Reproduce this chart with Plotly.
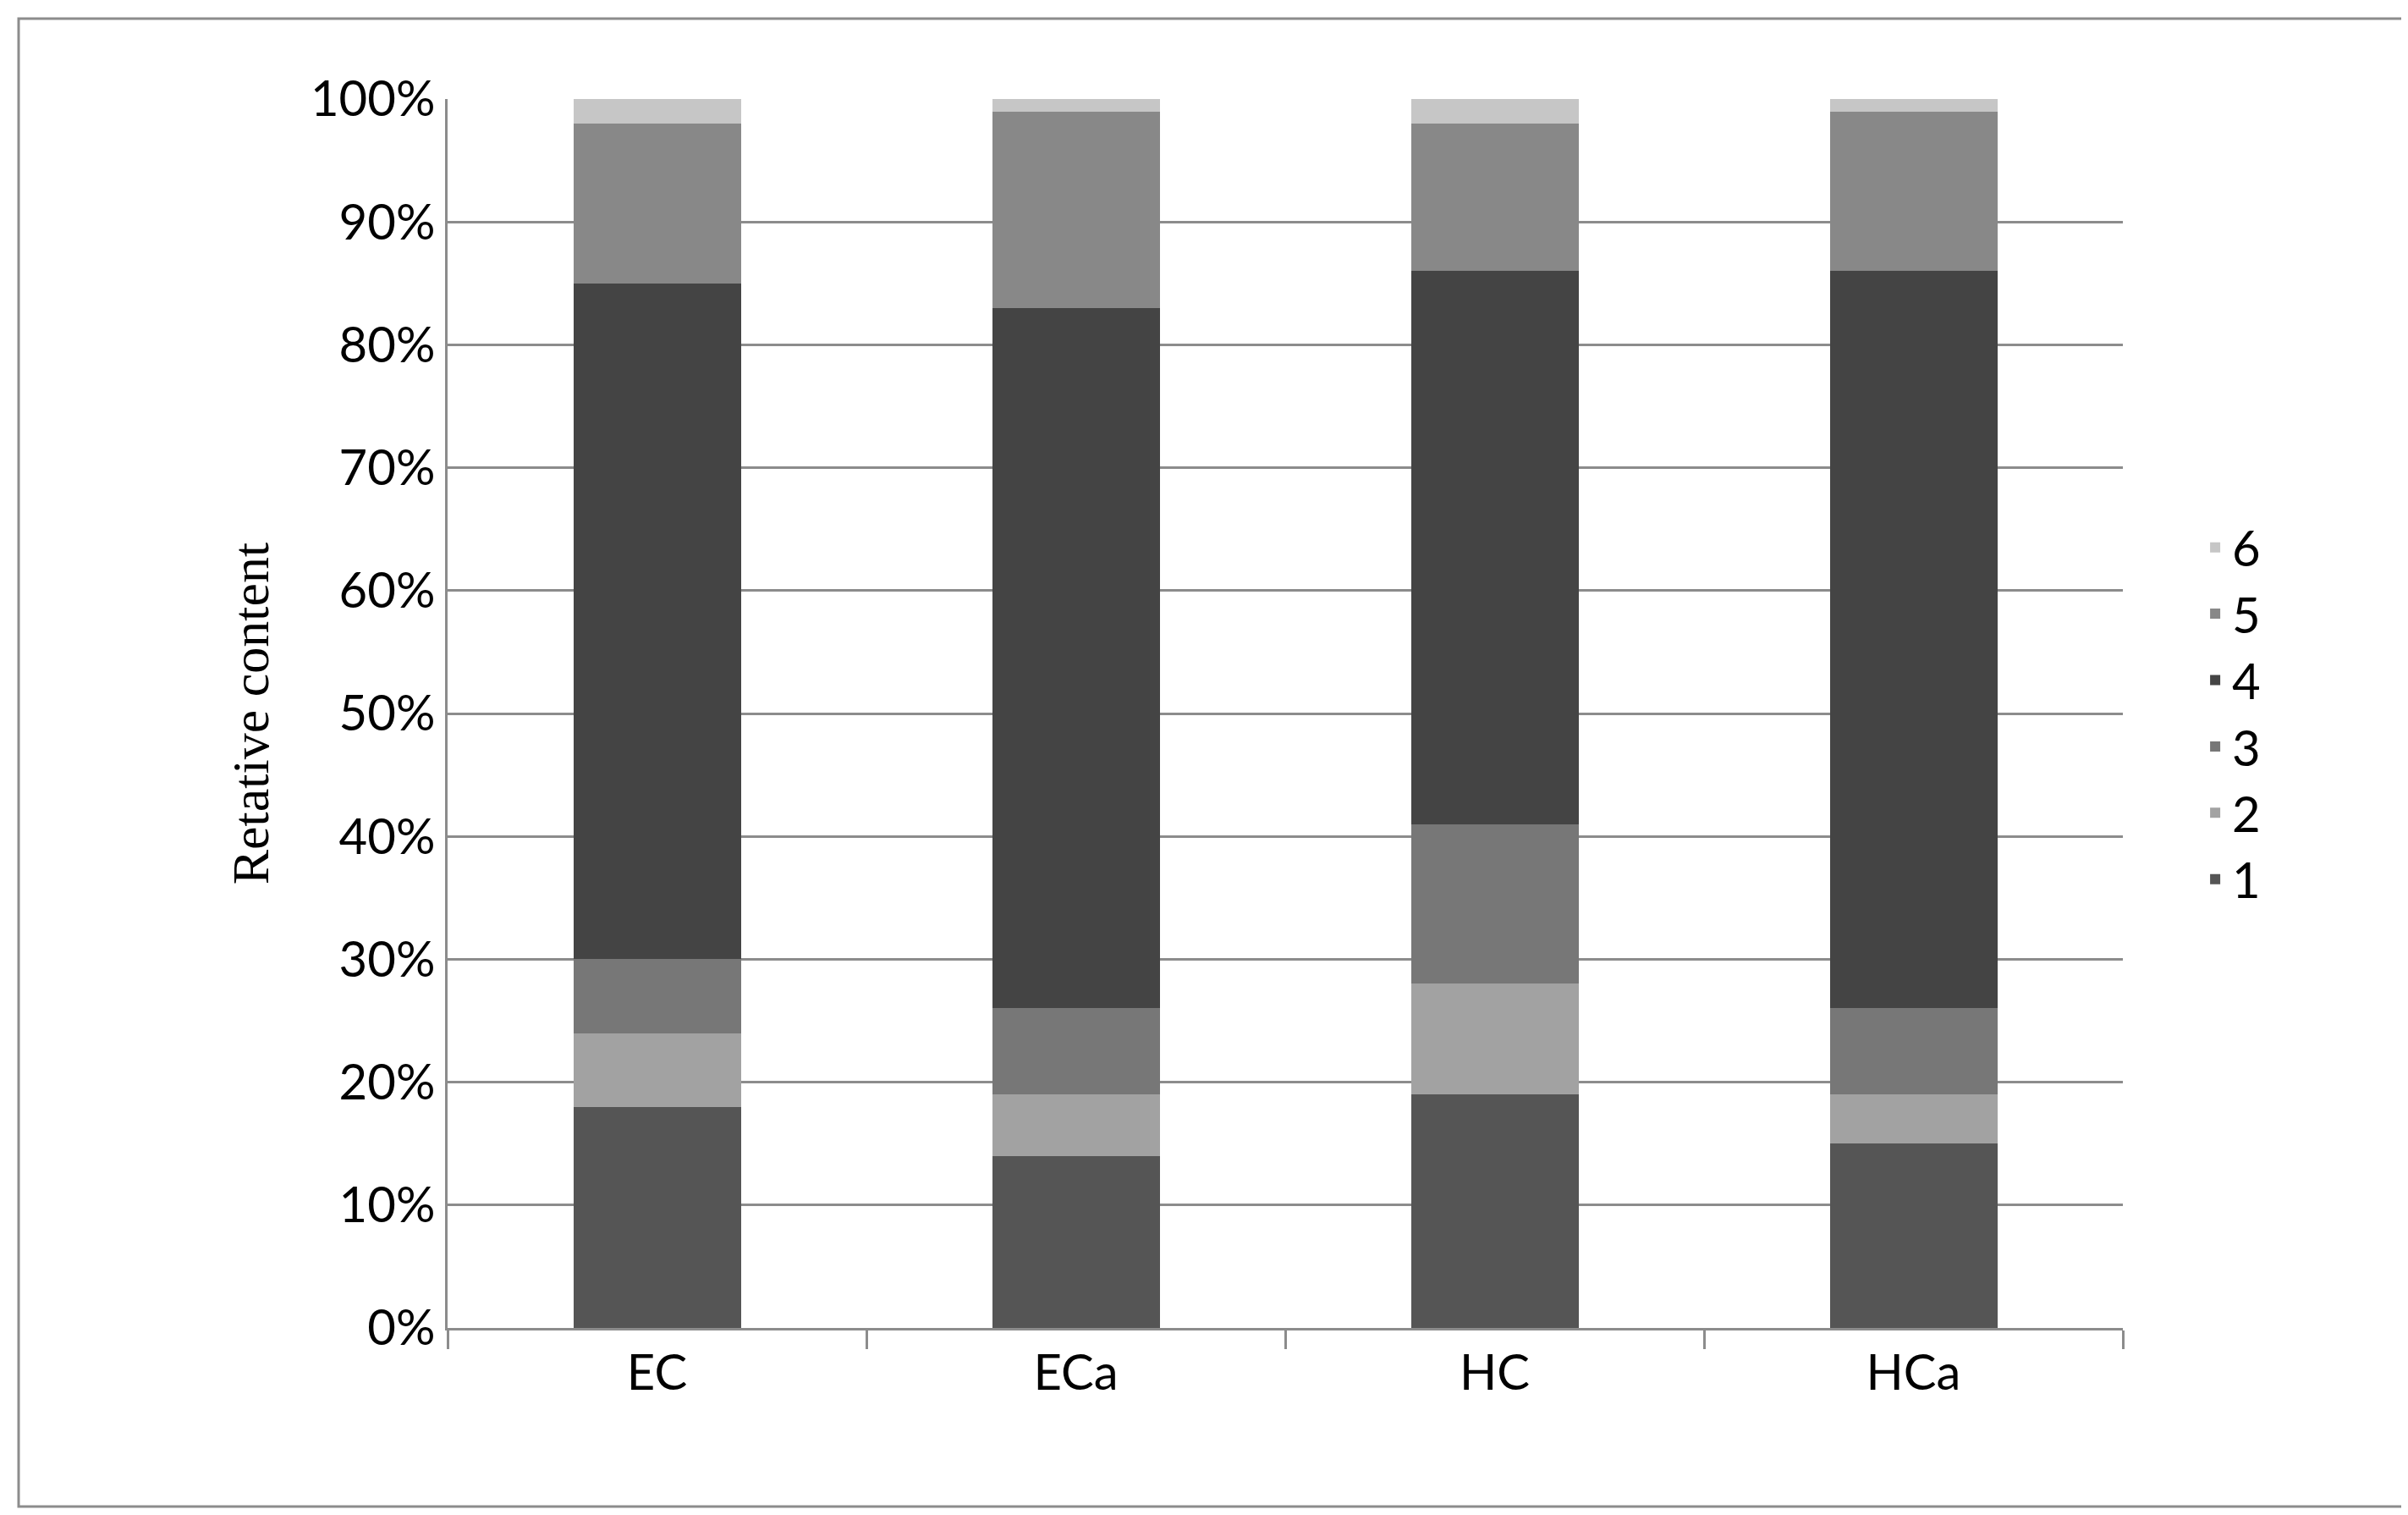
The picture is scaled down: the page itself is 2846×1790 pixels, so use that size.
import plotly.graph_objects as go

categories = ["EC", "ECa", "HC", "HCa"]
series_names = ["1", "2", "3", "4", "5", "6"]
values = {
    "1": [18, 14, 19, 15],
    "2": [6, 5, 9, 4],
    "3": [6, 7, 13, 7],
    "4": [55, 57, 45, 60],
    "5": [13, 16, 12, 13],
    "6": [2, 1, 2, 1],
}
colors = {"1": "#555555", "2": "#a2a2a2", "3": "#777777",
          "4": "#444444", "5": "#888888", "6": "#c6c6c6"}

W, H = 2846, 1790
fig = go.Figure()
for s in series_names:
    fig.add_trace(go.Bar(x=categories, y=values[s], name=s,
                         marker=dict(color=colors[s], line=dict(width=0)),
                         legendgroup=s))

L, R, T, B = 521, 2501, 109, 1561
fig.update_layout(
    width=W, height=H, barmode="stack", bargap=0.6,
    paper_bgcolor="white", plot_bgcolor="white",
    margin=dict(l=L, r=W - R, t=T, b=H - B),
    font=dict(family="Lato, Open Sans, sans-serif", size=58, color="black"),
    legend=dict(traceorder="reversed", x=1.045, y=0.5, yanchor="middle",
                xanchor="left", tracegroupgap=62, font=dict(size=58)),
    yaxis=dict(range=[0, 100], dtick=10, ticksuffix="%", showgrid=True,
               gridcolor="#8c8c8c", gridwidth=3, showline=True,
               linecolor="#8c8c8c", linewidth=3, ticks="", zeroline=False,
               title=dict(text="Retative content",
                          font=dict(family="Liberation Serif", size=62),
                          standoff=30)),
    xaxis=dict(showline=True, linecolor="#8c8c8c", linewidth=3,
               ticks="outside", tickson="boundaries", ticklen=22,
               tickcolor="#8c8c8c", tickwidth=3, tickfont=dict(size=58)),
    shapes=[dict(type="rect", xref="paper", yref="paper",
                 x0=(14 - L) / (R - L), x1=(2832 - L) / (R - L),
                 y0=(B - 1772) / (B - T), y1=(B - 14) / (B - T),
                 line=dict(color="#8c8c8c", width=3))],
)
fig.write_html("out.html")
